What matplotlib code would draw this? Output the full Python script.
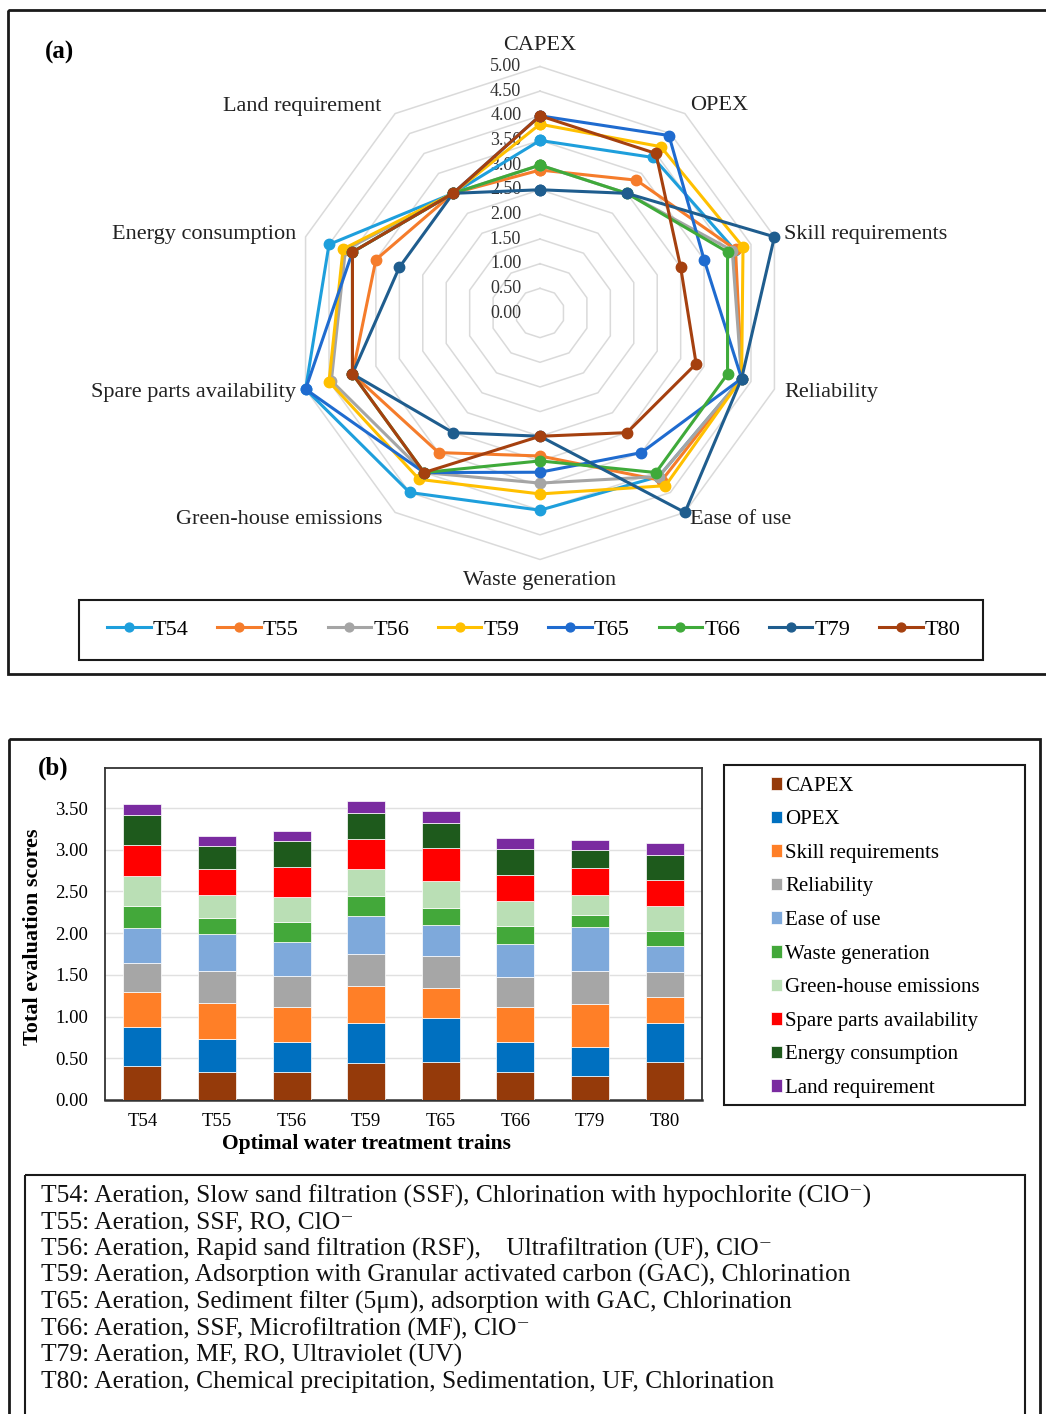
import numpy as np
import matplotlib
matplotlib.use('Agg')
import matplotlib.pyplot as plt
from matplotlib.patches import Rectangle

plt.rcParams['font.family'] = ['Liberation Serif', 'DejaVu Serif']

# --- data ---
criteria = ["CAPEX", "OPEX", "Skill requirements", "Reliability", "Ease of use",
            "Waste generation", "Green-house emissions", "Spare parts availability",
            "Energy consumption", "Land requirement"]
trains = ["T54", "T55", "T56", "T59", "T65", "T66", "T79", "T80"]

# radar scores (0-5), one list per train, in criteria order
T54 = [3.5, 3.9, 4.15, 4.3, 4.1, 4.0, 4.5, 5.0, 4.5, 3.0]
T55 = [2.9, 3.33, 4.17, 4.3, 4.2, 2.9, 3.5, 4.0, 3.5, 3.0]
T56 = [3.0, 3.0, 4.1, 4.3, 4.1, 3.45, 4.0, 4.45, 4.15, 3.0]
T59 = [3.83, 4.17, 4.33, 4.3, 4.33, 3.67, 4.17, 4.5, 4.2, 3.0]
T65 = [4.0, 4.45, 3.5, 4.3, 3.5, 3.23, 4.0, 5.0, 4.0, 3.0]
T66 = [3.0, 3.0, 4.0, 4.0, 4.0, 3.0, 4.0, 4.0, 4.0, 3.0]
T79 = [2.5, 3.0, 5.0, 4.3, 5.0, 2.5, 3.0, 4.0, 3.0, 3.0]
T80 = [4.0, 4.0, 3.0, 3.33, 3.0, 2.5, 4.0, 4.0, 4.0, 3.0]
radar_scores = [T54, T55, T56, T59, T65, T66, T79, T80]
radar_colors = ['#1E9FDC', '#F57C2B', '#A5A5A5', '#FFC000',
                '#1F6BCF', '#3FAA3A', '#1F5D8E', '#A5400F']

# weighted scores for the stacked bars, one list per criterion
capex = [0.41, 0.34, 0.34, 0.44, 0.46, 0.34, 0.29, 0.46]
opex = [0.46, 0.39, 0.35, 0.48, 0.52, 0.35, 0.34, 0.46]
skill = [0.42, 0.43, 0.42, 0.45, 0.36, 0.42, 0.52, 0.32]
reliability = [0.35, 0.39, 0.38, 0.38, 0.39, 0.36, 0.40, 0.30]
ease = [0.42, 0.44, 0.41, 0.46, 0.37, 0.40, 0.52, 0.31]
waste = [0.27, 0.19, 0.23, 0.23, 0.20, 0.21, 0.15, 0.17]
ghg = [0.35, 0.28, 0.30, 0.33, 0.32, 0.30, 0.24, 0.30]
spare = [0.38, 0.31, 0.36, 0.36, 0.40, 0.32, 0.32, 0.32]
energy = [0.355, 0.27, 0.32, 0.31, 0.30, 0.31, 0.22, 0.30]
land = [0.13, 0.13, 0.12, 0.14, 0.14, 0.13, 0.12, 0.14]
bar_series = [capex, opex, skill, reliability, ease, waste, ghg, spare, energy, land]
bar_colors = ['#953A0A', '#0070C0', '#FF7F27', '#A6A6A6', '#7EA9DB',
              '#43A83A', '#BADFB5', '#FF0000', '#1E5A1C', '#7A2BA0']

train_notes = [
    "T54: Aeration, Slow sand filtration (SSF), Chlorination with hypochlorite (ClO\u207b)",
    "T55: Aeration, SSF, RO, ClO\u207b",
    "T56: Aeration, Rapid sand filtration (RSF),    Ultrafiltration (UF), ClO\u207b",
    "T59: Aeration, Adsorption with Granular activated carbon (GAC), Chlorination",
    "T65: Aeration, Sediment filter (5\u03bcm), adsorption with GAC, Chlorination",
    "T66: Aeration, SSF, Microfiltration (MF), ClO\u207b",
    "T79: Aeration, MF, RO, Ultraviolet (UV)",
    "T80: Aeration, Chemical precipitation, Sedimentation, UF, Chlorination",
]

W, H = 1046, 1414
fig = plt.figure(figsize=(W / 100, H / 100), dpi=100)

def px_axes(x0, y0, x1, y1):
    return fig.add_axes([x0 / W, 1 - y1 / H, (x1 - x0) / W, (y1 - y0) / H])

# overlay in pixel coordinates for frames and free text
ov = fig.add_axes([0, 0, 1, 1], zorder=-1)
ov.set_xlim(0, W)
ov.set_ylim(H, 0)
ov.axis('off')
ov.add_patch(Rectangle((8, 10), 1100, 664, fill=False, ec='#1a1a1a', lw=2))
ov.add_patch(Rectangle((9, 739), 1031, 700, fill=False, ec='#1a1a1a', lw=2))
ov.add_patch(Rectangle((79, 600), 904, 60, fill=False, ec='#1a1a1a', lw=1.5))
ov.add_patch(Rectangle((724, 765), 301, 340, fill=False, ec='#1a1a1a', lw=1.5))
ov.add_patch(Rectangle((25, 1175), 1000, 260, fill=False, ec='#1a1a1a', lw=1.5))
ov.text(45, 52, "(a)", fontsize=18, fontweight='bold', va='center')
ov.text(38, 768, "(b)", fontsize=18, fontweight='bold', va='center')

# --- (a) radar ---
R_PX = 300
rax = px_axes(540 - R_PX, 313 - R_PX, 540 + R_PX, 313 + R_PX)
lim = R_PX / 49.3
rax.set_xlim(-lim, lim)
rax.set_ylim(-lim, lim)
rax.axis('off')

n = len(criteria)
theta = np.arange(n) * 2 * np.pi / n
theta_c = np.append(theta, theta[0])
for level in np.arange(0.5, 5.01, 0.5):
    rax.plot(level * np.sin(theta_c), level * np.cos(theta_c),
             color='#DADADA', lw=1.1, zorder=1)
for level in np.arange(0, 5.01, 0.5):
    rax.text(-0.38, level, f"{level:.2f}", ha='right', va='center',
             fontsize=13, color='#333333', zorder=2)

handles = []
for name, vals, col in zip(trains, radar_scores, radar_colors):
    v = np.append(vals, vals[0])
    ln, = rax.plot(v * np.sin(theta_c), v * np.cos(theta_c), color=col, lw=2.2,
                   marker='o', markersize=7.5, zorder=3, label=name)
    handles.append(ln)

label_pos = [(540, 45, 'center'), (719, 106, 'center'), (784, 234, 'left'),
             (784, 392, 'left'), (690, 519, 'left'), (540, 581, 'center'),
             (382, 519, 'right'), (296, 392, 'right'), (296, 234, 'right'),
             (381, 106, 'right')]
for name, (x, y, ha) in zip(criteria, label_pos):
    ov.text(x, y, name, ha=ha, va='center', fontsize=16, color='#222222')

fig.legend(handles=handles, loc='center', ncol=8, frameon=False,
           bbox_to_anchor=(534 / W, 1 - 630 / H), fontsize=16,
           handlelength=1.95, handletextpad=0.1, columnspacing=1.3,
           markerscale=0.85)

# --- (b) stacked bars ---
bax = px_axes(105, 768, 702, 1100)
x = np.arange(len(trains))
bottom = np.zeros(len(trains))
bar_handles = []
for name, vals, col in zip(criteria, bar_series, bar_colors):
    b = bax.bar(x, vals, width=0.51, bottom=bottom, color=col,
                edgecolor='white', linewidth=0.5, label=name, zorder=3)
    bottom += np.array(vals)
    bar_handles.append(b)
bax.set_xlim(-0.5, len(trains) - 0.5)
bax.set_ylim(0, 3.98)
bax.set_yticks(np.arange(0, 3.51, 0.5))
bax.set_yticklabels([f"{t:.2f}" for t in np.arange(0, 3.51, 0.5)])
bax.set_xticks(x)
bax.set_xticklabels(trains)
bax.tick_params(axis='both', length=0, labelsize=13.5)
bax.tick_params(axis='y', pad=12)
bax.tick_params(axis='x', pad=9)
bax.grid(axis='y', color='#E0E0E0', lw=1, zorder=0)
for s in bax.spines.values():
    s.set_color('#333333')
    s.set_linewidth(1.3)
bax.spines['bottom'].set_linewidth(1.8)

ov.text(366, 1144, "Optimal water treatment trains", ha='center', va='center',
        fontsize=15.5, fontweight='bold')
ov.text(33, 937, "Total evaluation scores", ha='center', va='center',
        fontsize=16, fontweight='bold', rotation=90)

fig.legend(handles=bar_handles, loc='upper left', frameon=False,
           bbox_to_anchor=(752 / W, 1 - 758 / H), fontsize=15,
           handlelength=0.55, handleheight=0.55, handletextpad=0.15,
           labelspacing=0.7)

for i, line in enumerate(train_notes):
    ov.text(41, 1196 + i * 26.6, line, ha='left', va='center', fontsize=18.4,
            color='#111111')

fig.savefig('out.png', dpi=100)
